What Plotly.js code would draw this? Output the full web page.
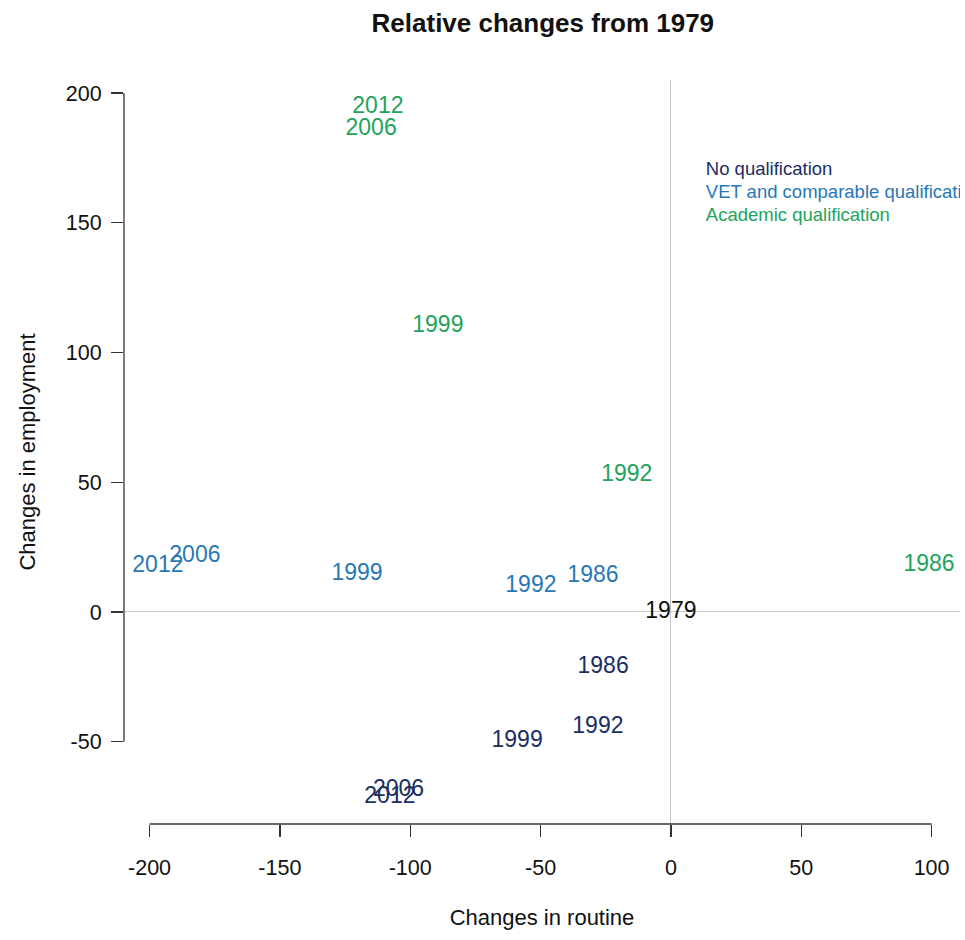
<!DOCTYPE html>
<html>
<head>
<meta charset="utf-8">
<script src="https://cdn.plot.ly/plotly-3.0.1.min.js"></script>
<style>html,body{margin:0;padding:0;background:#fff;}#chart{width:965px;height:940px;}</style>
</head>
<body>
<div id="chart"></div>
<script>
// Data (relative changes from 1979)
const years = ["1986", "1992", "1999", "2006", "2012"];
const noQualRoutine = [-26, -28, -59, -104.5, -107.8];
const noQualEmployment = [-21.2, -44.3, -49.7, -68.6, -71.3];
const vetRoutine = [-29.9, -53.7, -120.4, -182.6, -196.8];
const vetEmployment = [13.9, 10, 14.6, 21.6, 17.7];
const acadRoutine = [99, -16.9, -89.4, -115, -112.4];
const acadEmployment = [18.1, 52.8, 110.2, 186, 194.5];
const baseYear = ["1979"];
const baseRoutine = [0];
const baseEmployment = [0];

const seriesNames = ["No qualification", "VET and comparable qualification", "Academic qualification"];
const seriesColors = ["#1b2d63", "#2877b5", "#22a35b"];
const xTicks = [-200, -150, -100, -50, 0, 50, 100];
const yTicks = [-50, 0, 50, 100, 150, 200];
// legend anchor (data coordinates, like R's legend(x, y))
const legendX = [13.4, 13.4, 13.4];
const legendY = [170.2, 161.4, 152.5];

const font = "Liberation Sans, Arial, sans-serif";
const labelSize = 23;

function textTrace(x, y, t, color) {
  return {
    type: "scatter", mode: "text", x: x, y: y, text: t,
    textposition: "middle center",
    textfont: {family: font, size: labelSize, color: color},
    hoverinfo: "skip", showlegend: false, cliponaxis: true
  };
}

const traces = [
  textTrace(noQualRoutine, noQualEmployment, years, seriesColors[0]),
  textTrace(vetRoutine, vetEmployment, years, seriesColors[1]),
  textTrace(acadRoutine, acadEmployment, years, seriesColors[2]),
  textTrace(baseRoutine, baseEmployment, baseYear, "#111111")
];
// legend as text clipped to plot region
seriesNames.forEach((n, i) => {
  traces.push({
    type: "scatter", mode: "text", x: [legendX[i]], y: [legendY[i]], text: [n],
    textposition: "middle right",
    textfont: {family: font, size: 18.5, color: seriesColors[i]},
    hoverinfo: "skip", showlegend: false, cliponaxis: true
  });
});

const axisColor = "#333333";
const layout = {
  width: 965, height: 940,
  margin: {l: 124, r: 5, t: 80, b: 116},
  paper_bgcolor: "#ffffff", plot_bgcolor: "#ffffff",
  showlegend: false,
  font: {family: font, color: "#111"},
  title: {text: "<b>Relative changes from 1979</b>", x: 0.5625, xanchor: "center", y: 0.976, yanchor: "middle",
          font: {family: font, size: 26, color: "#111"}},
  xaxis: {
    range: [-209.8, 110.9], tickvals: xTicks, ticktext: xTicks.map(String),
    ticks: "outside", ticklen: 12, tickwidth: 1.3, tickcolor: axisColor,
    showgrid: false, showline: false, zeroline: true, zerolinecolor: "#c8c8c8", zerolinewidth: 1,
    tickfont: {family: font, size: 21.5, color: "#111"}, ticklabelstandoff: 12,
    title: {text: "Changes in routine", font: {family: font, size: 22, color: "#111"}, standoff: 30}
  },
  yaxis: {
    range: [-81.7, 205.0], tickvals: yTicks, ticktext: yTicks.map(String),
    ticks: "outside", ticklen: 12, tickwidth: 1.3, tickcolor: axisColor,
    showgrid: false, showline: false, zeroline: true, zerolinecolor: "#c8c8c8", zerolinewidth: 1,
    tickfont: {family: font, size: 21.5, color: "#111"}, ticklabelstandoff: 5,
    title: {text: "Changes in employment", font: {family: font, size: 22, color: "#111"}, standoff: 24}
  },
  shapes: [
    {type: "line", xref: "x", yref: "paper", x0: xTicks[0], x1: xTicks[xTicks.length - 1], y0: 0, y1: 0,
     line: {color: axisColor, width: 1.3}},
    {type: "line", xref: "paper", yref: "y", x0: 0, x1: 0, y0: yTicks[0], y1: yTicks[yTicks.length - 1],
     line: {color: axisColor, width: 1.3}}
  ]
};

Plotly.newPlot("chart", traces, layout, {displayModeBar: false, staticPlot: true});
</script>
</body>
</html>
